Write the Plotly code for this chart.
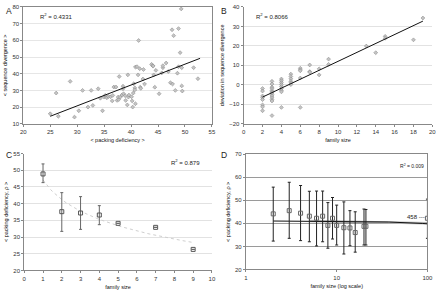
import numpy as np
import plotly.graph_objects as go

# ---------------- Panel A data ----------------
a_x = [25.0, 26.1, 26.5, 28.7, 29.5, 30.3, 31.0, 32.0, 32.9, 32.6, 33.9, 34.3, 34.7, 35.0, 35.2,
       35.5, 35.8, 36.2, 36.5, 36.6, 36.8, 37.2, 37.4, 37.7, 37.6, 37.8, 38.0, 38.3, 38.5, 38.5,
       38.6, 38.9, 39.0, 39.3, 39.4, 39.5, 39.6, 40.1, 40.2, 40.3, 40.4, 40.5, 40.7, 40.8, 40.7,
       40.8, 41.1, 41.3, 41.4, 41.7, 41.8, 41.6, 42.2, 42.3, 42.5, 43.8, 44.0, 44.1, 44.2, 44.4,
       44.6, 45.2, 45.7, 45.9, 45.9, 46.5, 46.9, 47.3, 47.6, 47.7, 47.9, 48.2, 48.6, 48.8, 48.8,
       49.1, 49.3, 49.4, 49.4, 49.5, 51.6, 52.4]
a_y = [16.0, 28.4, 14.5, 35.4, 14.0, 17.8, 30.0, 20.0, 21.0, 30.0, 31.0, 25.3, 17.8, 26.0, 27.0,
       25.6, 26.4, 26.2, 23.7, 27.0, 32.0, 32.0, 24.0, 24.5, 26.0, 38.3, 26.0, 27.2, 32.5, 31.0,
       28.0, 26.8, 24.0, 21.3, 39.3, 26.0, 27.2, 26.2, 23.7, 20.0, 28.4, 34.0, 31.5, 22.0, 30.3,
       44.0, 44.2, 39.3, 59.9, 31.9, 31.2, 43.0, 36.8, 42.5, 33.8, 45.6, 44.8, 44.6, 39.3, 31.9,
       42.0, 28.0, 40.5, 43.6, 44.8, 46.4, 41.3, 34.6, 66.3, 33.8, 62.8, 30.0, 40.3, 67.0, 44.2,
       52.6, 78.8, 43.6, 32.7, 29.6, 43.6, 37.0]
a_trend_x = [25.0, 52.8]
a_trend_y = [14.5, 49.2]
a_r2 = "0.4331"

# ---------------- Panel B data ----------------
b_x = [2]*8 + [3]*13 + [4]*9 + [5]*6 + [6]*5 + [7]*3 + [8]*2 + [9]*2 + [13, 14, 15, 15, 18, 19]
b_y = [-1.9, -3.2, -5.7, -6.6, -7.6, -10.3, -11.3, -13.3,
       1.8, 0.4, -1.2, -1.9, -2.9, -3.6, -4.1, -4.9, -5.7, -6.6, -7.6, -8.3, -15.8,
       3.0, 2.1, 1.1, 0.1, -0.9, -1.9, -2.9, -3.6, -11.6,
       5.5, 4.3, 3.1, 1.8, 1.0, 0.1,
       8.5, 7.7, 7.2, 3.5, -11.6,
       10.2, 6.8, 6.5,
       8.2, 5.1,
       13.2, 10.5,
       19.9, 16.5, 24.9, 23.9, 23.1, 34.3]
b_trend_x = [2, 19]
b_trend_y = [-6.3, 32.7]
b_r2 = "0.8066"

# ---------------- Panel C data ----------------
c_x = [1, 2, 3, 4, 5, 7, 9]
c_y = [48.9, 37.6, 37.2, 36.6, 34.1, 32.9, 26.3]
c_err_plus = [3.0, 5.7, 4.9, 2.8, 0, 0, 0]
c_err_minus = [2.6, 5.9, 4.9, 2.9, 0, 0, 0]
c_r2 = "0.879"

# ---------------- Panel D data ----------------
d_x = [2, 3, 4, 5, 6, 7, 8, 9, 10, 12, 14, 16, 20, 21, 100]
d_y = [44.1, 45.5, 44.4, 43.1, 42.2, 43.1, 39.1, 42.2, 39.1, 38.1, 38.0, 36.0, 38.7, 38.7, 42.2]
d_err_top = [55.7, 57.8, 56.4, 53.9, 54.0, 54.0, 49.0, 51.2, 47.9, 49.3, 45.5, 45.0, 46.2, 46.0, 50.5]
d_err_bot = [32.3, 33.5, 32.5, 32.0, 30.2, 32.0, 29.2, 33.2, 30.6, 26.7, 30.3, 27.5, 30.6, 30.6, 33.5]
d_trend_x = [2, 100]
d_trend_y = [41.0, 39.8]
d_log_trend_x = [5, 100]
d_log_trend_y = [41.0, 40.0]
d_r2 = "0.009"
d_label = "458 ---"

FONT = "Liberation Sans, Arial, sans-serif"
W, H = 440, 294

def px(x):
    return x / W

def py(y):
    return 1 - y / H

fig = go.Figure()

# Panel A
fig.add_trace(go.Scatter(x=a_x, y=a_y, mode="markers", xaxis="x", yaxis="y",
                         marker=dict(symbol="diamond", size=3, color="#c4c4c4",
                                     line=dict(color="#808080", width=0.5))))
fig.add_trace(go.Scatter(x=a_trend_x, y=a_trend_y, mode="lines", xaxis="x", yaxis="y",
                         line=dict(color="#111", width=1)))

# Panel B
fig.add_trace(go.Scatter(x=b_x, y=b_y, mode="markers", xaxis="x2", yaxis="y2",
                         marker=dict(symbol="diamond", size=3, color="#c4c4c4",
                                     line=dict(color="#808080", width=0.5))))
fig.add_trace(go.Scatter(x=b_trend_x, y=b_trend_y, mode="lines", xaxis="x2", yaxis="y2",
                         line=dict(color="#111", width=1)))

# Panel C: logarithmic trend computed from the data
coef = np.polyfit(np.log(c_x), c_y, 1)
cx_line = np.linspace(1, 9, 60)
cy_line = coef[0] * np.log(cx_line) + coef[1]
fig.add_trace(go.Scatter(x=cx_line, y=cy_line, mode="lines", xaxis="x3", yaxis="y3",
                         line=dict(color="#cfcfcf", width=1, dash="dot")))
fig.add_trace(go.Scatter(x=c_x, y=c_y, mode="markers", xaxis="x3", yaxis="y3",
                         marker=dict(symbol="square-open", size=4, color="#555",
                                     line=dict(width=1)),
                         error_y=dict(type="data", symmetric=False, array=c_err_plus,
                                      arrayminus=c_err_minus, color="#666", thickness=1, width=1.5)))

# Panel D
d_plus = [t - v for t, v in zip(d_err_top, d_y)]
d_minus = [v - b for v, b in zip(d_y, d_err_bot)]
fig.add_trace(go.Scatter(x=d_log_trend_x, y=d_log_trend_y, mode="lines", xaxis="x4", yaxis="y4",
                         line=dict(color="#b4b4b4", width=2.5)))
dx_line = np.linspace(d_trend_x[0], d_trend_x[1], 200)
dy_line = np.interp(dx_line, d_trend_x, d_trend_y)
fig.add_trace(go.Scatter(x=dx_line, y=dy_line, mode="lines", xaxis="x4", yaxis="y4",
                         line=dict(color="#111", width=1)))
fig.add_trace(go.Scatter(x=d_x, y=d_y, mode="markers", xaxis="x4", yaxis="y4",
                         marker=dict(symbol="square-open", size=4, color="#666",
                                     line=dict(width=1)),
                         error_y=dict(type="data", symmetric=False, array=d_plus,
                                      arrayminus=d_minus, color="#222", thickness=1, width=1.5)))

tickfont = dict(family=FONT, size=6, color="#333")
titlefont = dict(family=FONT, size=5.5, color="#111")

def ax(domain, rng, dtick, title, anchor, grid=False, gridcolor="#e2e2e2", mirror=False,
       typ="linear", standoff=4):
    d = dict(domain=domain, range=rng, dtick=dtick, anchor=anchor, showline=True,
             linecolor="#888", linewidth=1, ticks="outside", ticklen=2, tickcolor="#888",
             tickfont=tickfont, showgrid=grid, gridcolor=gridcolor, gridwidth=1,
             zeroline=False, mirror=mirror, type=typ,
             title=dict(text=title, font=titlefont, standoff=standoff))
    return d

fig.update_layout(
    width=W, height=H, margin=dict(l=0, r=0, t=0, b=0),
    paper_bgcolor="white", plot_bgcolor="white", showlegend=False,
    font=dict(family=FONT),
    xaxis=ax([px(20.7), px(213.3)], [20, 55], 5, "< packing deficiency >", "y", mirror=True),
    yaxis=ax([py(123.3), py(4)], [10, 80], 10, "< sequence divergence >", "x", mirror=True,
             grid=True, gridcolor="#e6e6e6"),
    xaxis2=ax([px(245.7), px(438.3)], [0, 20], 2, "family size", "y2"),
    yaxis2=ax([py(123.3), py(4)], [-20, 40], 10, "deviation in sequence divergence", "x2",
              grid=True),
    xaxis3=ax([px(21.7), px(213.3)], [0, 10], 1, "family size", "y3"),
    yaxis3=ax([py(273), py(153.7)], [20, 55], 5, "< packing deficiency, ρ >", "x3", grid=True),
    xaxis4=ax([px(248), px(433.3)], [0, 2], 1, "family size (log scale)", "y4", typ="log",
              mirror=True),
    yaxis4=ax([py(272), py(154.3)], [20, 70], 10, "< packing deficiency, ρ >", "x4", grid=True,
              gridcolor="#9a9a9a", mirror=True),
)

ann_font = dict(family=FONT, size=6, color="#222")
letter_font = dict(family=FONT, size=8.5, color="#222")
annotations = [
    dict(text="A", x=px(1), y=py(1), xanchor="left", yanchor="top", font=letter_font),
    dict(text="B", x=px(220), y=py(1), xanchor="left", yanchor="top", font=letter_font),
    dict(text="C", x=px(1), y=py(148), xanchor="left", yanchor="top", font=letter_font),
    dict(text="D", x=px(220), y=py(148), xanchor="left", yanchor="top", font=letter_font),
    dict(text="R<sup>2</sup> = " + a_r2, x=px(36), y=py(13), xanchor="left", yanchor="middle",
         font=ann_font),
    dict(text="R<sup>2</sup> = " + b_r2, x=px(256), y=py(13), xanchor="left", yanchor="middle",
         font=ann_font),
    dict(text="R<sup>2</sup> = " + c_r2, x=px(169), y=py(162), xanchor="left", yanchor="middle",
         font=ann_font),
    dict(text="R<sup>2</sup> = " + d_r2, x=px(403), y=py(166), xanchor="left", yanchor="middle",
         font=dict(family=FONT, size=5, color="#222")),
    dict(text=d_label, x=px(410), y=py(218), xanchor="left", yanchor="middle",
         font=dict(family=FONT, size=6, color="#222")),
]
for a in annotations:
    a.update(xref="paper", yref="paper", showarrow=False)
fig.update_layout(annotations=annotations)

fig.write_html("out.html", config={"displayModeBar": False},
               post_script="document.body.style.margin='0';document.body.style.overflow='hidden';")
